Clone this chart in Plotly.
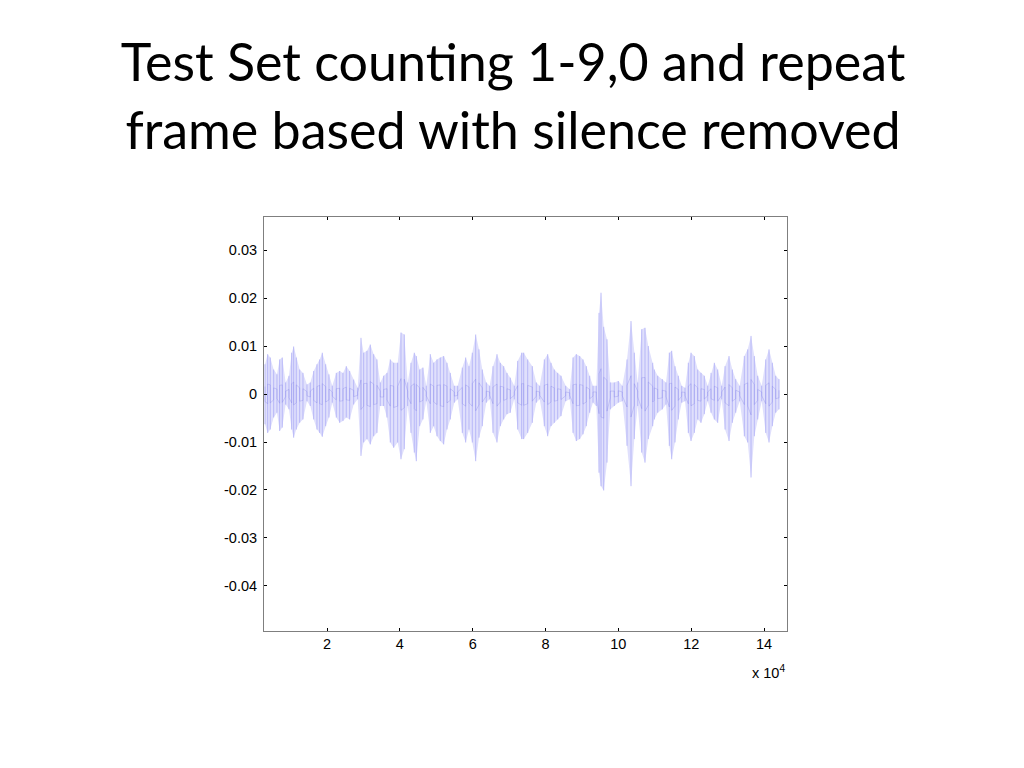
import plotly.graph_objects as go

# Envelope of the waveform (sample index, upper peak, lower peak)
sample_x = [2966, 3707, 4421, 5355, 6261, 7002, 7716, 8650, 9556, 10298, 10847, 11561, 12494, 13400,
            14499, 15405, 16339, 17245, 17986, 18700, 19634, 20540, 21446, 22545, 23478, 24384, 25291,
            26224, 27323, 28421, 29327, 30069, 30975, 31881, 32815, 33721, 34627, 35561, 36467, 37373,
            38307, 39405, 40311, 41217, 42151, 43057, 43963, 44513, 45446, 46352, 47259, 48357, 49291,
            50197, 51103, 52037, 52943, 53849, 54947, 55881, 57144, 58078, 58984, 59890, 60824, 61730,
            62636, 63735, 64668, 65574, 66673, 67579, 68513, 69419, 70325, 71423, 72357, 73456, 74005,
            75103, 76366, 77465, 78398, 79661, 80595, 81501, 82407, 83341, 84247, 85538, 86636, 87542,
            88449, 89382, 90288, 91195, 92128, 93034, 93941, 94682, 95231, 95973, 96879, 97785, 98883,
            99982, 101080, 102371, 103469, 104375, 105309, 106408, 107314, 108220, 109428, 109867,
            110801, 112064, 113080, 113986, 114646, 115552, 116458, 117392, 118298, 119204, 119945,
            120851, 121785, 122691, 123597, 124531, 125437, 126343, 127277, 128376, 129282, 130380,
            131286, 132220, 133318, 134581, 135515, 136421, 137327, 138261, 139360, 140458, 141364,
            142270, 143204, 144110]
upper = [0.0062, 0.0083, 0.0076, 0.0051, 0.0041, 0.0072, 0.0076, 0.0024, 0.0038, 0.0086, 0.0099, 0.0076,
         0.0051, 0.0044, 0.0020, 0.0024, 0.0048, 0.0062, 0.0072, 0.0086, 0.0062, 0.0041, 0.0017, 0.0044,
         0.0048, 0.0044, 0.0058, 0.0048, 0.0030, 0.0013, 0.0117, 0.0086, 0.0090, 0.0103, 0.0083, 0.0072,
         0.0024, 0.0038, 0.0044, 0.0072, 0.0065, 0.0065, 0.0128, 0.0124, 0.0024, 0.0065, 0.0086, 0.0079,
         0.0051, 0.0055, 0.0017, 0.0083, 0.0065, 0.0072, 0.0076, 0.0079, 0.0065, 0.0044, 0.0017, 0.0017,
         0.0055, 0.0076, 0.0058, 0.0086, 0.0124, 0.0093, 0.0051, 0.0024, 0.0017, 0.0058, 0.0083, 0.0065,
         0.0058, 0.0044, 0.0034, 0.0017, 0.0069, 0.0086, 0.0086, 0.0072, 0.0058, 0.0024, 0.0017, 0.0072,
         0.0083, 0.0065, 0.0051, 0.0044, 0.0038, 0.0017, 0.0010, 0.0076, 0.0083, 0.0079, 0.0072, 0.0058,
         0.0038, 0.0017, 0.0017, 0.0169, 0.0211, 0.0140, 0.0114, 0.0024, 0.0024, 0.0027, 0.0017, 0.0072,
         0.0152, 0.0086, 0.0024, 0.0135, 0.0138, 0.0100, 0.0065, 0.0051, 0.0038, 0.0031, 0.0024, 0.0086,
         0.0090, 0.0058, 0.0038, 0.0017, 0.0013, 0.0065, 0.0086, 0.0079, 0.0051, 0.0044, 0.0038, 0.0017,
         0.0044, 0.0065, 0.0051, 0.0017, 0.0058, 0.0079, 0.0051, 0.0031, 0.0017, 0.0079, 0.0093, 0.0121,
         0.0079, 0.0038, 0.0017, 0.0072, 0.0093, 0.0065, 0.0038, 0.0031]
lower = [-0.0063, -0.0081, -0.0074, -0.0049, -0.0039, -0.0077, -0.0070, -0.0022, -0.0032, -0.0074, -0.0091,
         -0.0074, -0.0060, -0.0053, -0.0015, -0.0025, -0.0053, -0.0074, -0.0081, -0.0089, -0.0067, -0.0049,
         -0.0018, -0.0049, -0.0060, -0.0056, -0.0049, -0.0053, -0.0022, -0.0011, -0.0129, -0.0101, -0.0094,
         -0.0105, -0.0088, -0.0081, -0.0025, -0.0025, -0.0049, -0.0101, -0.0112, -0.0101, -0.0136, -0.0115,
         -0.0025, -0.0081, -0.0122, -0.0140, -0.0067, -0.0053, -0.0015, -0.0081, -0.0067, -0.0088, -0.0098,
         -0.0105, -0.0074, -0.0053, -0.0018, -0.0011, -0.0081, -0.0101, -0.0074, -0.0101, -0.0140, -0.0091,
         -0.0067, -0.0018, -0.0011, -0.0081, -0.0101, -0.0067, -0.0053, -0.0042, -0.0039, -0.0011, -0.0074,
         -0.0094, -0.0094, -0.0081, -0.0060, -0.0018, -0.0011, -0.0067, -0.0088, -0.0067, -0.0060, -0.0053,
         -0.0046, -0.0015, -0.0011, -0.0081, -0.0098, -0.0094, -0.0084, -0.0067, -0.0039, -0.0018, -0.0025,
         -0.0164, -0.0192, -0.0201, -0.0143, -0.0032, -0.0025, -0.0018, -0.0015, -0.0108, -0.0192, -0.0094,
         -0.0025, -0.0122, -0.0143, -0.0094, -0.0067, -0.0053, -0.0039, -0.0032, -0.0022, -0.0108, -0.0136,
         -0.0101, -0.0053, -0.0018, -0.0015, -0.0081, -0.0098, -0.0081, -0.0053, -0.0060, -0.0042, -0.0015,
         -0.0039, -0.0053, -0.0060, -0.0011, -0.0074, -0.0098, -0.0060, -0.0039, -0.0015, -0.0088, -0.0101,
         -0.0174, -0.0088, -0.0053, -0.0015, -0.0081, -0.0101, -0.0067, -0.0039, -0.0032]

x_tick_vals = [20000, 40000, 60000, 80000, 100000, 120000, 140000]
x_tick_text = ["2", "4", "6", "8", "10", "12", "14"]
y_tick_vals = [-0.04, -0.03, -0.02, -0.01, 0, 0.01, 0.02, 0.03]
y_tick_text = ["-0.04", "-0.03", "-0.02", "-0.01", "0", "0.01", "0.02", "0.03"]

title_text = "Test Set counting 1-9,0 and repeat<br>frame based with silence removed"

fig = go.Figure()

# light envelope fill
fig.add_trace(go.Scatter(
    x=sample_x + sample_x[::-1], y=upper + lower[::-1],
    fill="toself", fillcolor="rgb(224,224,252)",
    line=dict(width=0), mode="lines", hoverinfo="skip", showlegend=False))

# vertical strokes
sx, sy = [], []
for xv, hi, lo in zip(sample_x, upper, lower):
    sx += [xv, xv, None]
    sy += [hi, lo, None]
fig.add_trace(go.Scatter(x=sx, y=sy, mode="lines",
                         line=dict(color="rgba(170,170,245,0.75)", width=1),
                         hoverinfo="skip", showlegend=False))

# zig-zag near the centre (the darker jagged trace)
zx, zy = [], []
for i, (xv, hi, lo) in enumerate(zip(sample_x, upper, lower)):
    if i % 2 == 0:
        zx += [xv, xv]; zy += [hi * 0.25, lo * 0.25]
    else:
        zx += [xv, xv]; zy += [lo * 0.25, hi * 0.25]
fig.add_trace(go.Scatter(x=zx, y=zy, mode="lines",
                         line=dict(color="rgba(120,120,225,0.4)", width=0.7),
                         hoverinfo="skip", showlegend=False))

axis_common = dict(showline=True, linecolor="#7f7f7f", linewidth=1, mirror="ticks",
                   ticks="inside", ticklen=3, tickcolor="#000000", showgrid=False,
                   zeroline=False, tickfont=dict(family="Liberation Sans, Arial", size=14.5, color="#000"))

fig.update_layout(
    width=1024, height=768,
    paper_bgcolor="white", plot_bgcolor="white",
    margin=dict(l=256, r=245, t=209, b=145),
    title=dict(text=title_text, x=0.4932, xanchor="center", xref="container",
               y=1 - 73 / 768, yanchor="middle", yref="container",
               font=dict(family="Lato, Open Sans", size=52, color="black")),
    xaxis=dict(range=[2700, 146300], tickvals=x_tick_vals, ticktext=x_tick_text, **axis_common),
    yaxis=dict(range=[-0.04938, 0.03688], tickvals=y_tick_vals, ticktext=y_tick_text,
               ticklabelstandoff=3, **axis_common),
    annotations=[
        dict(text="x 10<sup>4</sup>", xref="paper", yref="paper", x=1.0, y=0, xanchor="right", yanchor="top",
             yshift=-30, showarrow=False, font=dict(family="Liberation Sans, Arial", size=14.5, color="black")),
    ],
)

fig.write_html("out.html")
